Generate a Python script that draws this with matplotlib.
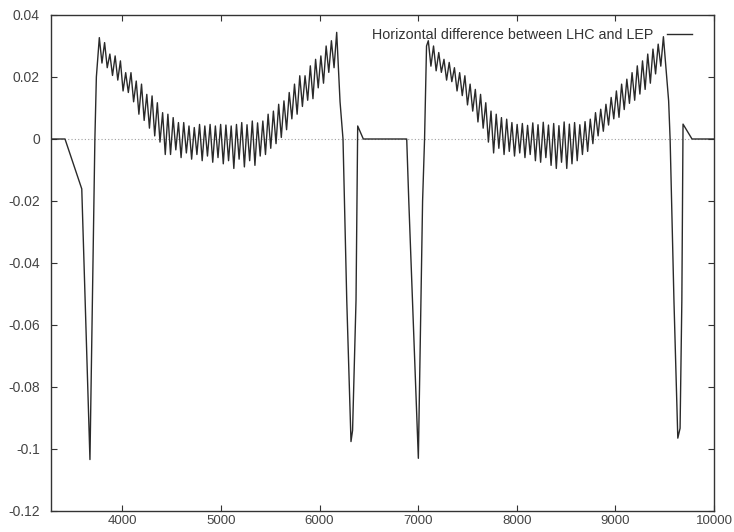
import numpy as np
import matplotlib
matplotlib.use("Agg")
import matplotlib.pyplot as plt

# values in units of 1e-3
lead_x = [3277, 3419, 3589, 3672, 3712, 3722, 3737]
lead_y = [0.0, 0.0, -16.1, -103.4, -20.0, 0.0, 20.0]

arc1_range = (3767, 6174)
arc1_peaks = [32.7, 31.1, 27.4, 26.8, 25.2, 21.4, 21.4, 18.7, 17.7, 14.4,
              13.9, 11.7, 8.5, 8.0, 6.9, 5.3, 5.3, 4.2, 3.7, 4.7,
              4.2, 4.7, 4.2, 4.7, 4.5, 4.2, 4.7, 5.3, 4.6, 5.8,
              5.2, 5.8, 8.0, 9.0, 11.2, 12.3, 15.0, 17.7, 20.4, 20.4,
              23.6, 25.7, 26.8, 30.0, 31.7, 34.4]
arc1_troughs = [24.5, 23.0, 20.5, 19.0, 15.5, 15.0, 12.0, 8.0, 6.0, 3.5,
                1.0, -1.0, -5.0, -5.0, -3.5, -6.0, -4.5, -6.5, -5.0, -7.0,
                -5.5, -7.5, -6.0, -8.0, -7.0, -9.5, -6.5, -9.0, -7.0, -8.5,
                -5.5, -5.0, -3.0, -1.5, 0.5, 3.0, 6.5, 8.0, 10.5, 12.5,
                13.0, 16.5, 18.0, 21.5, 23.0]

mid_x = [6208, 6238, 6276, 6319, 6335, 6370, 6387, 6444, 6884, 6905,
         7002, 7045, 7065, 7085]
mid_y = [12.0, 0.0, -52.0, -97.6, -94.0, -52.0, 4.2, 0.0, 0.0, -20.0,
         -103.0, -20.0, 0.0, 30.0]

arc2_range = (7103, 9487)
arc2_peaks = [31.7, 30.0, 27.9, 25.7, 24.7, 23.0, 21.4, 20.4, 17.7, 16.0,
              14.4, 11.7, 9.0, 8.0, 6.9, 6.4, 5.3, 4.7, 5.0, 4.4,
              5.2, 4.6, 5.4, 4.5, 5.0, 4.3, 5.5, 4.8, 5.3, 4.6,
              5.6, 6.4, 8.5, 9.6, 11.2, 13.4, 15.5, 17.7, 19.3, 21.4,
              23.6, 25.2, 27.4, 29.0, 30.6, 33.0]
arc2_troughs = [23.5, 22.0, 21.5, 19.0, 18.5, 15.5, 14.0, 11.0, 9.0, 5.5,
                3.5, -1.0, -4.5, -3.0, -5.0, -4.0, -5.5, -4.5, -6.0, -5.0,
                -7.0, -7.5, -6.0, -8.5, -9.5, -7.5, -9.5, -8.0, -7.0, -5.0,
                -4.0, -1.5, 1.0, 2.5, 4.5, 6.5, 7.0, 9.5, 11.5, 12.5,
                14.5, 16.0, 18.0, 21.0, 23.5]

tail_x = [9540, 9555, 9594, 9633, 9656, 9674, 9686, 9777, 10000]
tail_y = [12.3, 0.0, -52.3, -96.5, -93.3, -52.0, 4.8, 0.0, 0.0]

x_ticks = [4000, 5000, 6000, 7000, 8000, 9000, 10000]
y_ticks = [0.04, 0.02, 0, -0.02, -0.04, -0.06, -0.08, -0.1, -0.12]
legend_text = "Horizontal difference between LHC and LEP"


def zigzag(peaks, troughs, x_range):
    # interleave peak/trough readings on the regular element spacing
    vals = []
    for i, p in enumerate(peaks):
        vals.append(p)
        if i < len(troughs):
            vals.append(troughs[i])
    xs = np.linspace(x_range[0], x_range[1], len(vals))
    return list(xs), vals


a1x, a1y = zigzag(arc1_peaks, arc1_troughs, arc1_range)
a2x, a2y = zigzag(arc2_peaks, arc2_troughs, arc2_range)

x = np.array(lead_x + a1x + mid_x + a2x + tail_x, dtype=float)
y = np.array(lead_y + a1y + mid_y + a2y + tail_y) * 1e-3

plt.rcParams["font.family"] = ["Liberation Sans", "DejaVu Sans"]

fig = plt.figure(figsize=(7.34, 5.32), dpi=100)
ax = fig.add_axes([51 / 734, 1 - 511 / 532, (714 - 51) / 734, (511 - 15) / 532])

ax.axhline(0, color="#a0a0a0", linewidth=0.8, linestyle=(0, (1, 2)), zorder=1)
line, = ax.plot(x, y, color="#2a2a2a", linewidth=1.0, zorder=2)

ax.set_xlim(3277, 10000)
ax.set_ylim(-0.12, 0.04)
ax.set_xticks(x_ticks)
ax.set_yticks(y_ticks)
ax.set_yticklabels(["%g" % v for v in y_ticks])
ax.set_xticklabels([str(v) for v in x_ticks])

ax.tick_params(direction="in", length=4, width=0.8, top=True, right=True,
               labelsize=10, labelcolor="#444444", colors="#333333")
ax.tick_params(axis="y", pad=8)
ax.tick_params(axis="x", pad=3, labelsize=9.5)
for sp in ax.spines.values():
    sp.set_linewidth(1.0)
    sp.set_color("#333333")

leg = ax.legend([line], [legend_text], loc="upper right", frameon=False,
                fontsize=10.3, markerfirst=False, handlelength=1.8,
                handletextpad=0.9, borderaxespad=0.0,
                bbox_to_anchor=(0.976, 0.985))
for t in leg.get_texts():
    t.set_color("#333333")

fig.savefig("out.png", dpi=100)
